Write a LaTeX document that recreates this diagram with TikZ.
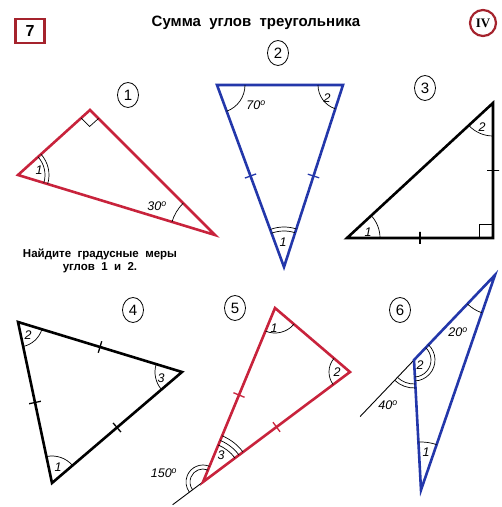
\documentclass[tikz,border=0pt]{standalone}
\usepackage{fontspec}
\setmainfont{Liberation Sans}
\newfontfamily\romanfont{Liberation Serif}
\usetikzlibrary{angles, shapes.geometric, calc}

\definecolor{tred}{RGB}{200,35,60}
\definecolor{tblue}{RGB}{35,55,170}
\definecolor{boxred}{RGB}{165,35,45}

\newcommand{\grad}[1]{#1\textsuperscript{o}}

\begin{document}
\begin{tikzpicture}[
    x=1pt, y=1pt,
    trisides/.style={line width=2.6pt, line join=miter},
    extline/.style={line width=0.9pt},
    ang/.style={draw, line width=0.7pt},
    num/.style={draw, ellipse, line width=0.8pt, minimum width=21pt, minimum height=25pt, inner sep=0pt, font=\fontsize{15}{15}\selectfont},
    lab/.style={font=\fontsize{12.5}{12.5}\selectfont\itshape, inner sep=0pt},
    tickmark/.style={midway, sloped, draw, line width=1.3pt, inner sep=0pt, minimum width=0pt, minimum height=12pt}
]
\useasboundingbox (0,0) rectangle (502,507);

% --- Kopf ---
\node[draw=boxred, line width=2.2pt, minimum width=29pt, minimum height=24pt, font=\bfseries\fontsize{16}{16}\selectfont] (page) at (30,476) {7};
\node[font=\bfseries\fontsize{15}{15}\selectfont] (title) at (256,484) {Сумма\ \ углов\ \ треугольника};
\node[draw=boxred, circle, line width=2.2pt, minimum size=26pt, inner sep=0pt, font=\romanfont\bfseries\fontsize{13}{13}\selectfont] (part) at (483,484) {IV};

% --- Aufgabe ---
\node[font=\bfseries\fontsize{11.5}{13}\selectfont, align=center] (task) at (100,246) {Найдите\ \ градусные\ \ меры\\углов\ \ 1\ \ и\ \ 2.};

% --- Dreieck 1 ---
\coordinate (A1) at (18,332);
\coordinate (B1) at (90,397);
\coordinate (C1) at (215,272);
\draw[trisides, tred] (A1) -- (B1) -- (C1) -- cycle;
\pic[ang, angle radius=27] {angle=C1--A1--B1};
\pic[ang, angle radius=31] {angle=C1--A1--B1};
\pic[ang, angle radius=45] {angle=B1--C1--A1};
\pic[ang, angle radius=12] {right angle=A1--B1--C1};
\node[lab] (a11) at (39,337) {1};
\node[lab] (a12) at (157,301) {\grad{30}};
\node[num] (n1) at (128,412) {1};

% --- Dreieck 2 ---
\coordinate (P2) at (217,422);
\coordinate (Q2) at (343,422);
\coordinate (R2) at (284,240);
\draw[trisides, tblue] (P2) -- (Q2) -- (R2) -- cycle;
\pic[ang, angle radius=28] {angle=R2--P2--Q2};
\pic[ang, angle radius=25] {angle=P2--Q2--R2};
\pic[ang, angle radius=36] {angle=Q2--R2--P2};
\pic[ang, angle radius=40] {angle=Q2--R2--P2};
\path (P2) -- (R2) node[tickmark, tblue] {};
\path (Q2) -- (R2) node[tickmark, tblue] {};
\node[lab] (a21) at (283,265) {1};
\node[lab] (a22) at (327,409) {2};
\node[lab] (a23) at (256,402) {\grad{70}};
\node[num] (n2) at (278,454) {2};

% --- Dreieck 3 ---
\coordinate (L3) at (347,269);
\coordinate (T3) at (493,404);
\coordinate (K3) at (493,269);
\draw[trisides] (L3) -- (T3) -- (K3) -- cycle;
\pic[ang, angle radius=33] {angle=K3--L3--T3};
\pic[ang, angle radius=33] {angle=L3--T3--K3};
\pic[ang, angle radius=14] {right angle=L3--K3--T3};
\path (L3) -- (K3) node[tickmark] {};
\path (K3) -- (T3) node[tickmark] {};
\node[lab] (a31) at (368,275) {1};
\node[lab] (a32) at (482,380) {2};
\node[num] (n3) at (425,419) {3};

% --- Dreieck 4 ---
\coordinate (T4) at (18,185);
\coordinate (R4) at (182,135);
\coordinate (B4) at (52,24);
\draw[trisides] (T4) -- (R4) -- (B4) -- cycle;
\pic[ang, angle radius=25] {angle=B4--T4--R4};
\pic[ang, angle radius=27] {angle=T4--R4--B4};
\pic[ang, angle radius=27] {angle=R4--B4--T4};
\path (T4) -- (R4) node[tickmark] {};
\path (R4) -- (B4) node[tickmark] {};
\path (B4) -- (T4) node[tickmark] {};
\node[lab] (a41) at (58,40) {1};
\node[lab] (a42) at (28,172) {2};
\node[lab] (a43) at (161,129) {3};
\node[num] (n4) at (133,197) {4};

% --- Dreieck 5 ---
\coordinate (T5) at (275,199);
\coordinate (R5) at (350,135);
\coordinate (B5) at (203,25);
\coordinate (E5) at ($(B5)!-38pt!(R5)$);
\draw[extline] (B5) -- (E5);
\draw[trisides, tred] (T5) -- (R5) -- (B5) -- cycle;
\pic[ang, angle radius=25] {angle=B5--T5--R5};
\pic[ang, angle radius=21] {angle=T5--R5--B5};
\foreach \r in {40,45,50}
    \pic[ang, angle radius=\r] {angle=R5--B5--T5};
\pic[ang, angle radius=13] {angle=T5--B5--E5};
\pic[ang, angle radius=17] {angle=T5--B5--E5};
\path (T5) -- (B5) node[tickmark, tred] {};
\path (B5) -- (R5) node[tickmark, tred] {};
\node[lab] (a51) at (274,179) {1};
\node[lab] (a52) at (337,135) {2};
\node[lab] (a53) at (221,52) {3};
\node[lab] (a54) at (164,34) {\grad{150}};
\node[num] (n5) at (235,199) {5};

% --- Dreieck 6 ---
\coordinate (A6) at (495,232);
\coordinate (M6) at (414,147);
\coordinate (B6) at (421,17);
\coordinate (E6) at ($(M6)!-78pt!(A6)$);
\draw[extline] (M6) -- (E6);
\draw[trisides, tblue] (A6) -- (M6) -- (B6) -- cycle;
\pic[ang, angle radius=40] {angle=M6--A6--B6};
\pic[ang, angle radius=17] {angle=B6--M6--A6};
\pic[ang, angle radius=21] {angle=B6--M6--A6};
\pic[ang, angle radius=24] {angle=E6--M6--B6};
\pic[ang, angle radius=28] {angle=E6--M6--B6};
\pic[ang, angle radius=48] {angle=A6--B6--M6};
\node[lab] (a61) at (426,55) {1};
\node[lab] (a62) at (420,142) {2};
\node[lab] (a63) at (458,175) {\grad{20}};
\node[lab] (a64) at (388,102) {\grad{40}};
\node[num] (n6) at (400,197) {6};

\end{tikzpicture}
\end{document}
